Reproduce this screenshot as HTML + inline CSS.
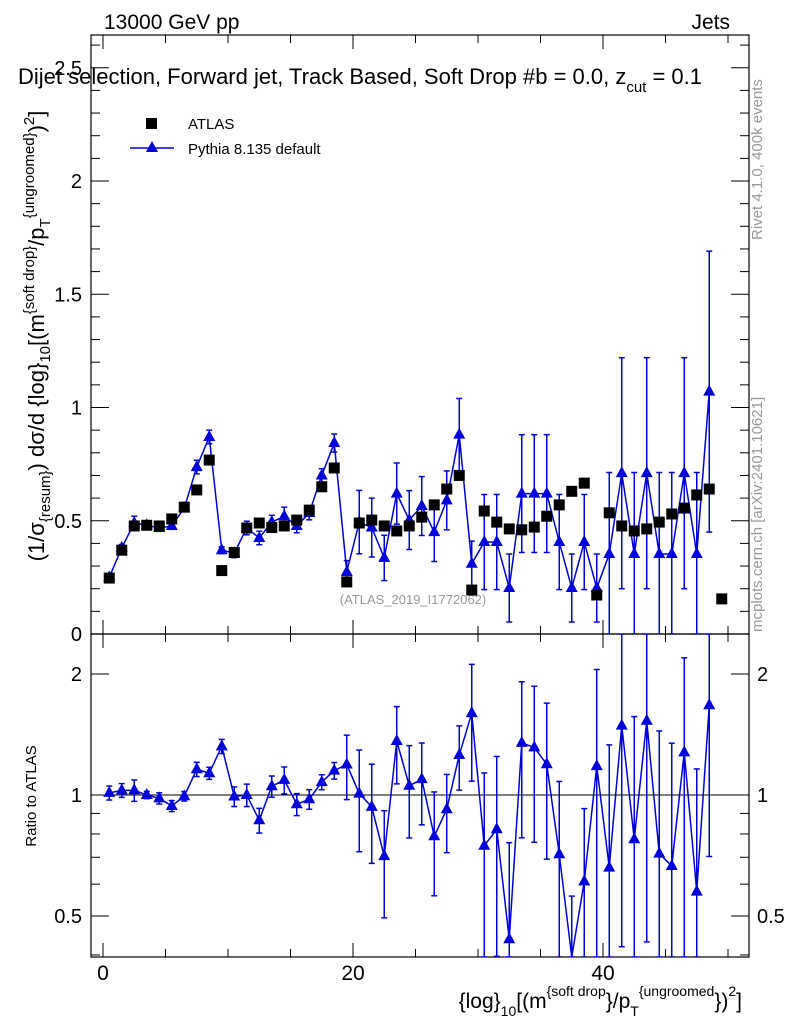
<!DOCTYPE html>
<html><head><meta charset="utf-8"><style>
html,body{margin:0;padding:0;background:#fff;overflow:hidden;width:786px;height:1024px;}
svg{font-family:"Liberation Sans",sans-serif;display:block;}
</style></head><body>
<svg id="c" width="786" height="1024" xmlns="http://www.w3.org/2000/svg">
<text x="104" y="29" font-size="21">13000 GeV pp</text>
<text x="730" y="29" font-size="21" text-anchor="end">Jets</text>
<text x="18" y="84" font-size="22">Dijet selection, Forward jet, Track Based, Soft Drop #b = 0.0, z<tspan font-size="15" dy="8">cut</tspan><tspan dy="-8"> = 0.1</tspan></text>
<text x="762" y="240" font-size="15" fill="#999" transform="rotate(-90 762 240)">Rivet 4.1.0,  400k events</text>
<text x="762" y="632" font-size="15" fill="#999" transform="rotate(-90 762 632)">mcplots.cern.ch [arXiv:2401.10621]</text>
<text x="413" y="604" font-size="13" fill="#999" text-anchor="middle">(ATLAS_2019_I1772062)</text>
<text x="44" y="336" font-size="22" text-anchor="middle" transform="rotate(-90 44 336)">(1/σ<tspan font-size="15" dy="6">{resum}</tspan><tspan dy="-6">) dσ/d {log}</tspan><tspan font-size="15" dy="6">10</tspan><tspan dy="-6">[(m</tspan><tspan font-size="15" dy="-10">{soft drop}</tspan><tspan dy="10">/p</tspan><tspan font-size="15" dy="6">T</tspan><tspan font-size="15" dy="-16">{ungroomed}</tspan><tspan dy="10">)</tspan><tspan font-size="15" dy="-10">2</tspan><tspan dy="10">]</tspan></text>
<text x="36" y="796" font-size="15" text-anchor="middle" transform="rotate(-90 36 796)">Ratio to ATLAS</text>
<text x="742" y="1008" font-size="21" text-anchor="end">{log}<tspan font-size="14" dy="8">10</tspan><tspan dy="-8">[(m</tspan><tspan font-size="14" dy="-12">{soft drop</tspan><tspan dy="12">}/p</tspan><tspan font-size="14" dy="8">T</tspan><tspan font-size="14" dy="-20">{ungroomed</tspan><tspan dy="12">})</tspan><tspan font-size="14" dy="-12">2</tspan><tspan dy="12">]</tspan></text>
<g>
<rect x="146" y="118" width="11" height="11" fill="#000"/>
<text x="188" y="129" font-size="15">ATLAS</text>
<line x1="130" y1="148" x2="174" y2="148" stroke="#0000dd" stroke-width="1.5"/>
<polygon points="152,141 158,152 146,152" fill="#0000dd"/>
<text x="188" y="154" font-size="15">Pythia 8.135 default</text>
</g>
<g id="g"></g>
</svg>
<script>
const atlas=[0.247,0.37,0.477,0.48,0.477,0.508,0.56,0.636,0.768,0.28,0.36,0.468,0.49,0.47,0.477,0.503,0.547,0.65,0.733,0.23,0.49,0.503,0.477,0.455,0.477,0.516,0.57,0.64,0.70,0.194,0.543,0.494,0.464,0.46,0.472,0.52,0.57,0.63,0.666,0.172,0.535,0.477,0.455,0.464,0.494,0.53,0.556,0.614,0.64,0.155];
const pythia=[0.25,0.38,0.49,0.48,0.468,0.477,0.556,0.737,0.87,0.37,0.357,0.468,0.424,0.494,0.52,0.477,0.534,0.70,0.843,0.274,0.494,0.47,0.336,0.62,0.503,0.565,0.45,0.59,0.88,0.31,0.406,0.406,0.203,0.62,0.62,0.62,0.406,0.203,0.406,0.203,0.353,0.71,0.353,0.71,0.353,0.353,0.71,0.353,1.07];
const pythiaErr=[0.01,0.015,0.03,0.01,0.015,0.015,0.015,0.03,0.03,0.015,0.02,0.03,0.03,0.03,0.04,0.03,0.03,0.03,0.04,0.05,0.14,0.13,0.1,0.135,0.13,0.13,0.13,0.13,0.16,0.1,0.21,0.21,0.15,0.26,0.26,0.26,0.21,0.15,0.21,0.15,0.36,0.51,0.36,0.51,0.36,0.36,0.51,0.36,0.62];
const xTicks=[0,20,40];
const yTicks=[0,0.5,1,1.5,2,2.5];
const rTicks=[0.5,1,2];
const NS="http://www.w3.org/2000/svg";
const g=document.getElementById('g');
const L=91,R=749,T1=35,B1=634,T2=634,B2=957;
const X=v=>103+12.5*v;
const Y=v=>634-226.5*v;
const RY=r=>795-121*Math.log2(r);
function el(tag,a,parent){const e=document.createElementNS(NS,tag);for(const k in a)e.setAttribute(k,a[k]);(parent||g).appendChild(e);return e;}
let f=el('rect',{x:L,y:T1,width:R-L,height:B1-T1,fill:'none',stroke:'#000','stroke-width':1.2});


f=el('rect',{x:L,y:T2,width:R-L,height:B2-T2,fill:'none',stroke:'#000','stroke-width':1.2});


for(let v=0;v<=50;v+=5){const maj=v%20===0;const len=maj?14:8;
 el('line',{x1:X(v),x2:X(v),y1:B1,y2:B1-len,stroke:'#000'});
 el('line',{x1:X(v),x2:X(v),y1:T1,y2:T1+len,stroke:'#000'});
 el('line',{x1:X(v),x2:X(v),y1:B2,y2:B2-len,stroke:'#000'});
 el('line',{x1:X(v),x2:X(v),y1:T2,y2:T2+len,stroke:'#000'});}
xTicks.forEach(v=>{const t=el('text',{x:X(v),y:980,'font-size':21,'text-anchor':'middle'});t.textContent=v;
 
 });
for(let i=0;i<=26;i++){const v=i/10;const maj=i%5===0;const len=maj?18:9;
 el('line',{x1:L,x2:L+len,y1:Y(v),y2:Y(v),stroke:'#000'});
 el('line',{x1:R,x2:R-len,y1:Y(v),y2:Y(v),stroke:'#000'});}
yTicks.forEach(v=>{const t=el('text',{x:82,y:Y(v)+7,'font-size':20,'text-anchor':'end'});t.textContent=v;
 
 });
[0.4,0.5,0.6,0.7,0.8,0.9,1,2].forEach(v=>{const maj=rTicks.includes(v);const len=maj?18:9;
 el('line',{x1:L,x2:L+len,y1:RY(v),y2:RY(v),stroke:'#000'});
 el('line',{x1:R,x2:R-len,y1:RY(v),y2:RY(v),stroke:'#000'});});
rTicks.forEach(v=>{let t=el('text',{x:82,y:RY(v)+7,'font-size':20,'text-anchor':'end'});t.textContent=v;
 
 
 t=el('text',{x:757,y:RY(v)+7,'font-size':20});t.textContent=v;
 
 });
let ref=el('line',{x1:L,x2:R,y1:RY(1),y2:RY(1),stroke:'#000'});


const defs=el('defs',{});
const c1=el('clipPath',{id:'c1'},defs);el('rect',{x:L,y:T1,width:R-L,height:B1-T1},c1);
const c2=el('clipPath',{id:'c2'},defs);el('rect',{x:L,y:T2,width:R-L,height:B2-T2},c2);
const gm=el('g',{'clip-path':'url(#c1)'});
const gr=el('g',{'clip-path':'url(#c2)'});
const blue='#0000dd';
const clampM=y=>Math.max(T1,Math.min(B1,y));
const clampR=y=>Math.max(T2,Math.min(B2,y));
function tri(px,py,parent){return el('polygon',{points:`${px},${py-7} ${px+6},${py+4} ${px-6},${py+4}`,fill:blue},parent);}
function errbar(px,y1,y2,parent){el('line',{x1:px,x2:px,y1:y1,y2:y2,stroke:blue,'stroke-width':1.5},parent);
 el('line',{x1:px-3,x2:px+3,y1:y1,y2:y1,stroke:blue,'stroke-width':1.5},parent);
 el('line',{x1:px-3,x2:px+3,y1:y2,y2:y2,stroke:blue,'stroke-width':1.5},parent);}
let pts=pythia.map((v,i)=>X(i+0.5)+','+Y(v)).join(' ');
let pl=el('polyline',{points:pts,fill:'none',stroke:blue,'stroke-width':1.5},gm);


pythia.forEach((v,i)=>{const px=X(i+0.5);errbar(px,clampM(Y(v+pythiaErr[i])),clampM(Y(v-pythiaErr[i])),gm);
 const m=tri(px,Y(v),gm);
 
 });
atlas.forEach((v,i)=>{const m=el('rect',{x:X(i+0.5)-5.5,y:Y(v)-5.5,width:11,height:11,fill:'#000'},gm);
 
 });
const ratio=pythia.map((v,i)=>v/atlas[i]);
pts=ratio.map((r,i)=>X(i+0.5)+','+clampR(RY(r))).join(' ');
pl=el('polyline',{points:pts,fill:'none',stroke:blue,'stroke-width':1.5},gr);


ratio.forEach((r,i)=>{const px=X(i+0.5);const e=pythiaErr[i]/atlas[i];
 errbar(px,clampR(RY(r+e)),r-e>0.05?clampR(RY(r-e)):B2,gr);
 if(RY(r)<=B2){const m=tri(px,RY(r),gr);
 
 }});
</script>
</body></html>
